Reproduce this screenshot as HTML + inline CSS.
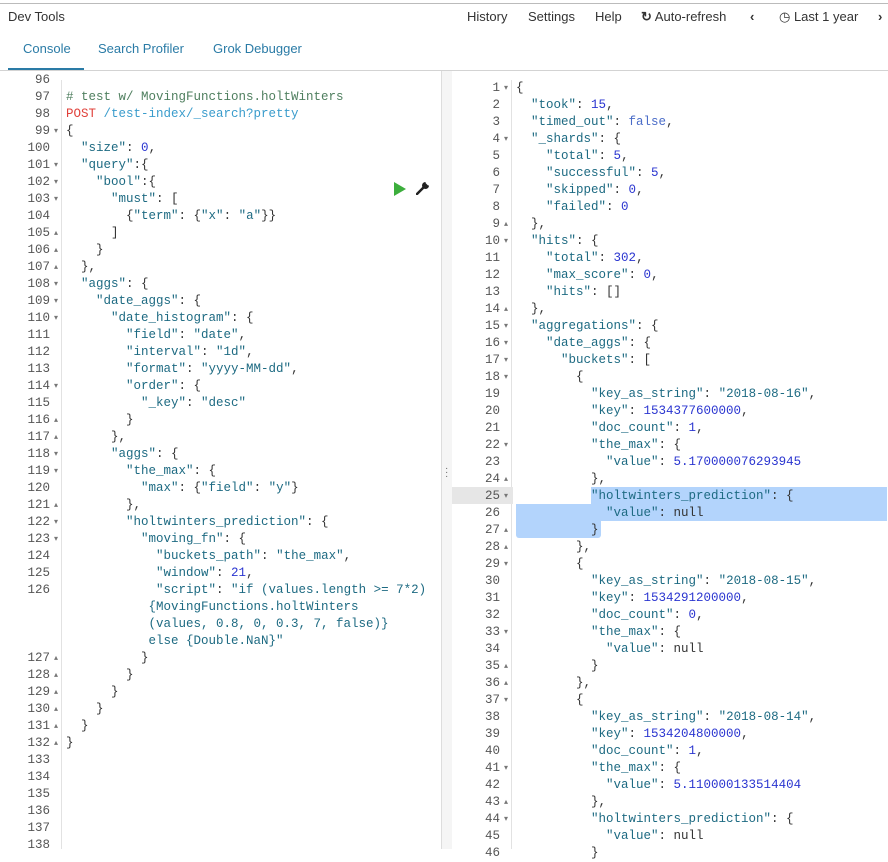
<!DOCTYPE html>
<html><head><meta charset="utf-8"><style>
*{margin:0;padding:0;box-sizing:border-box}
body{width:888px;height:849px;overflow:hidden;background:#fff;font-family:"Liberation Sans",sans-serif;position:relative;color:#333}
.top{position:absolute;left:0;right:0;top:3px;height:1px;background:#bbb}
.title{position:absolute;left:8px;top:9px;font-size:13px;color:#333}
.menu{position:absolute;top:9px;font-size:13px;color:#333}
.tab{position:absolute;top:41px;font-size:13px;color:#2a7ba6}
.uline{position:absolute;left:8px;top:68px;width:76px;height:2px;background:#2a7ba6}
.hline{position:absolute;left:0;right:0;top:70px;height:1px;background:#d3d3d3}
.div{position:absolute;left:441px;top:71px;width:11px;bottom:0;background:#f5f5f5;border-left:1px solid #ddd}
.code{position:absolute;font-family:"Liberation Mono",monospace;font-size:12.5px;line-height:17px;white-space:pre;color:#333}
.gut{position:absolute;font-family:"Liberation Mono",monospace;font-size:12.5px;line-height:17px;white-space:pre;color:#555;text-align:right}
.k{color:#1d6a82}.n{color:#2a35d0}.c{color:#4f7f5f}.r{color:#e0403a}.u{color:#3a9ccc}.b{color:#4a6cc8}
.f{font-size:8px;color:#777;display:inline-block;width:12px;text-align:center;vertical-align:top}
.hl{position:absolute;background:#b3d4fc}
.gl{position:absolute;border-left:1px solid #e2e2e2;width:0}
</style></head><body>
<div class="top"></div>
<div class="title">Dev Tools</div>
<div class="menu" style="left:467px">History</div>
<div class="menu" style="left:528px">Settings</div>
<div class="menu" style="left:595px">Help</div>
<div class="menu" style="left:641px"><b style="font-size:13px">↻</b> Auto-refresh</div>
<div class="menu" style="left:750px;font-weight:bold">‹</div>
<div class="menu" style="left:779px">◷ Last 1 year</div>
<div class="menu" style="left:878px;font-weight:bold">›</div>
<div class="tab" style="left:23px">Console</div>
<div class="tab" style="left:98px">Search Profiler</div>
<div class="tab" style="left:213px">Grok Debugger</div>
<div class="uline"></div>
<div class="hline"></div>
<div class="div"><div style="position:absolute;top:396px;left:3px;font-size:10px;color:#666;line-height:4px">·<br>·<br>·</div></div>
<div class="gl" style="left:61px;top:80px;height:769px"></div>
<div class="gl" style="left:511px;top:80px;height:769px"></div>

<div class="gut" style="left:0;top:71px;width:62px;height:778px;overflow:hidden"><div style="margin-top:1px">96<span class="f"> </span>
97<span class="f"> </span>
98<span class="f"> </span>
99<span class="f">▾</span>
100<span class="f"> </span>
101<span class="f">▾</span>
102<span class="f">▾</span>
103<span class="f">▾</span>
104<span class="f"> </span>
105<span class="f">▴</span>
106<span class="f">▴</span>
107<span class="f">▴</span>
108<span class="f">▾</span>
109<span class="f">▾</span>
110<span class="f">▾</span>
111<span class="f"> </span>
112<span class="f"> </span>
113<span class="f"> </span>
114<span class="f">▾</span>
115<span class="f"> </span>
116<span class="f">▴</span>
117<span class="f">▴</span>
118<span class="f">▾</span>
119<span class="f">▾</span>
120<span class="f"> </span>
121<span class="f">▴</span>
122<span class="f">▾</span>
123<span class="f">▾</span>
124<span class="f"> </span>
125<span class="f"> </span>
126<span class="f"> </span>



127<span class="f">▴</span>
128<span class="f">▴</span>
129<span class="f">▴</span>
130<span class="f">▴</span>
131<span class="f">▴</span>
132<span class="f">▴</span>
133<span class="f"> </span>
134<span class="f"> </span>
135<span class="f"> </span>
136<span class="f"> </span>
137<span class="f"> </span>
138<span class="f"> </span></div></div>

<div class="code" style="left:66px;top:89px"><span class="c"># test w/ MovingFunctions.holtWinters</span>
<span class="r">POST</span> <span class="u">/test-index/_search?pretty</span>
{
  <span class="k">"size"</span>: <span class="n">0</span>,
  <span class="k">"query"</span>:{
    <span class="k">"bool"</span>:{
      <span class="k">"must"</span>: [
        {<span class="k">"term"</span>: {<span class="k">"x"</span>: <span class="k">"a"</span>}}
      ]
    }
  },
  <span class="k">"aggs"</span>: {
    <span class="k">"date_aggs"</span>: {
      <span class="k">"date_histogram"</span>: {
        <span class="k">"field"</span>: <span class="k">"date"</span>,
        <span class="k">"interval"</span>: <span class="k">"1d"</span>,
        <span class="k">"format"</span>: <span class="k">"yyyy-MM-dd"</span>,
        <span class="k">"order"</span>: {
          <span class="k">"_key"</span>: <span class="k">"desc"</span>
        }
      },
      <span class="k">"aggs"</span>: {
        <span class="k">"the_max"</span>: {
          <span class="k">"max"</span>: {<span class="k">"field"</span>: <span class="k">"y"</span>}
        },
        <span class="k">"holtwinters_prediction"</span>: {
          <span class="k">"moving_fn"</span>: {
            <span class="k">"buckets_path"</span>: <span class="k">"the_max"</span>,
            <span class="k">"window"</span>: <span class="n">21</span>,
            <span class="k">"script"</span>: <span class="k">"if (values.length &gt;= 7*2)</span>
<span class="k">           {MovingFunctions.holtWinters</span>
<span class="k">           (values, 0.8, 0, 0.3, 7, false)}</span>
<span class="k">           else {Double.NaN}"</span>
          }
        }
      }
    }
  }
}</div>

<div style="position:absolute;left:394px;top:182px;width:0;height:0;border-left:12px solid #3cae3c;border-top:7px solid transparent;border-bottom:7px solid transparent"></div>
<svg style="position:absolute;left:416px;top:181px" width="14" height="14" viewBox="0 0 14 14"><path d="M1 13 L7 7" stroke="#222" stroke-width="2.5" stroke-linecap="round"/><circle cx="9.5" cy="4.5" r="3.5" fill="#222"/><path d="M10 1 L13 4" stroke="#fff" stroke-width="2"/></svg>

<div class="hl" style="left:452px;top:487px;width:61px;height:17px;background:#e6e6e6"></div>
<div class="hl" style="left:591px;top:487px;width:296px;height:17px"></div>
<div class="hl" style="left:516px;top:504px;width:371px;height:17px"></div>
<div class="hl" style="left:516px;top:521px;width:85px;height:17px;border-radius:0 0 3px 3px"></div>

<div class="gut" style="left:452px;top:80px;width:60px"><div>1<span class="f">▾</span>
2<span class="f"> </span>
3<span class="f"> </span>
4<span class="f">▾</span>
5<span class="f"> </span>
6<span class="f"> </span>
7<span class="f"> </span>
8<span class="f"> </span>
9<span class="f">▴</span>
10<span class="f">▾</span>
11<span class="f"> </span>
12<span class="f"> </span>
13<span class="f"> </span>
14<span class="f">▴</span>
15<span class="f">▾</span>
16<span class="f">▾</span>
17<span class="f">▾</span>
18<span class="f">▾</span>
19<span class="f"> </span>
20<span class="f"> </span>
21<span class="f"> </span>
22<span class="f">▾</span>
23<span class="f"> </span>
24<span class="f">▴</span>
25<span class="f">▾</span>
26<span class="f"> </span>
27<span class="f">▴</span>
28<span class="f">▴</span>
29<span class="f">▾</span>
30<span class="f"> </span>
31<span class="f"> </span>
32<span class="f"> </span>
33<span class="f">▾</span>
34<span class="f"> </span>
35<span class="f">▴</span>
36<span class="f">▴</span>
37<span class="f">▾</span>
38<span class="f"> </span>
39<span class="f"> </span>
40<span class="f"> </span>
41<span class="f">▾</span>
42<span class="f"> </span>
43<span class="f">▴</span>
44<span class="f">▾</span>
45<span class="f"> </span>
46<span class="f"> </span></div></div>

<div class="code" style="left:516px;top:80px">{
  <span class="k">"took"</span>: <span class="n">15</span>,
  <span class="k">"timed_out"</span>: <span class="b">false</span>,
  <span class="k">"_shards"</span>: {
    <span class="k">"total"</span>: <span class="n">5</span>,
    <span class="k">"successful"</span>: <span class="n">5</span>,
    <span class="k">"skipped"</span>: <span class="n">0</span>,
    <span class="k">"failed"</span>: <span class="n">0</span>
  },
  <span class="k">"hits"</span>: {
    <span class="k">"total"</span>: <span class="n">302</span>,
    <span class="k">"max_score"</span>: <span class="n">0</span>,
    <span class="k">"hits"</span>: []
  },
  <span class="k">"aggregations"</span>: {
    <span class="k">"date_aggs"</span>: {
      <span class="k">"buckets"</span>: [
        {
          <span class="k">"key_as_string"</span>: <span class="k">"2018-08-16"</span>,
          <span class="k">"key"</span>: <span class="n">1534377600000</span>,
          <span class="k">"doc_count"</span>: <span class="n">1</span>,
          <span class="k">"the_max"</span>: {
            <span class="k">"value"</span>: <span class="n">5.170000076293945</span>
          },
          <span class="k">"holtwinters_prediction"</span>: {
            <span class="k">"value"</span>: null
          }
        },
        {
          <span class="k">"key_as_string"</span>: <span class="k">"2018-08-15"</span>,
          <span class="k">"key"</span>: <span class="n">1534291200000</span>,
          <span class="k">"doc_count"</span>: <span class="n">0</span>,
          <span class="k">"the_max"</span>: {
            <span class="k">"value"</span>: null
          }
        },
        {
          <span class="k">"key_as_string"</span>: <span class="k">"2018-08-14"</span>,
          <span class="k">"key"</span>: <span class="n">1534204800000</span>,
          <span class="k">"doc_count"</span>: <span class="n">1</span>,
          <span class="k">"the_max"</span>: {
            <span class="k">"value"</span>: <span class="n">5.110000133514404</span>
          },
          <span class="k">"holtwinters_prediction"</span>: {
            <span class="k">"value"</span>: null
          }</div>
</body></html>
